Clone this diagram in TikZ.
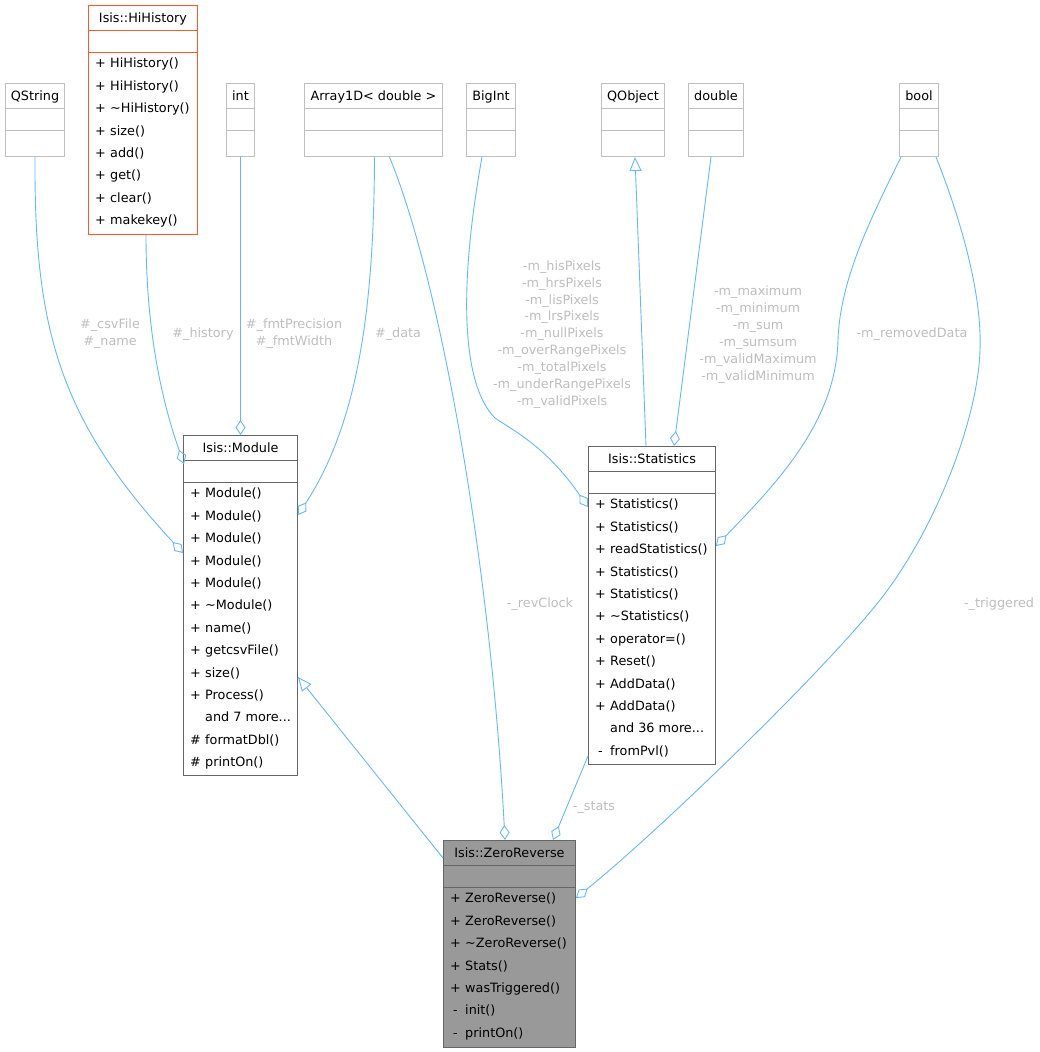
\documentclass[tikz,border=0pt]{standalone}
\usepackage{fontspec}
\setmainfont{DejaVu Sans}
\usetikzlibrary{arrows.meta}
\definecolor{edgeblue}{HTML}{63B8FF}
\definecolor{labelgrey}{HTML}{BEBEBE}
\definecolor{extgrey}{HTML}{BFBFBF}
\definecolor{clsgrey}{HTML}{666666}
\definecolor{clsfill}{HTML}{999999}
\definecolor{truncred}{HTML}{FA5A28}
% one member row: visibility sign, then name
\newcommand{\mrow}[2]{\strut\makebox[15pt][l]{\makebox[10.7pt]{#1}}#2}
% the two compartment lines under the title
\newcommand{\splitbox}[2]{%
  \draw[#2, line width=1pt] ([yshift=-25pt]#1.north west) -- ([yshift=-25pt]#1.north east)
    ([yshift=-47pt]#1.north west) -- ([yshift=-47pt]#1.north east);}
\begin{document}
\begin{tikzpicture}[x=1pt, y=-1pt,
  classbox/.style={draw, line width=1pt, anchor=north west, inner sep=0pt, fill=white},
  extbox/.style={classbox, draw=extgrey, minimum height=73pt},
  docbox/.style={classbox, draw=clsgrey},
  boxtitle/.style={anchor=base, inner sep=0pt, font=\fontsize{12.8}{15}\selectfont},
  members/.style={anchor=north west, align=left, inner sep=0pt, font=\fontsize{12.8}{22.4}\selectfont},
  lbl/.style={text=labelgrey, align=center, inner sep=0pt, font=\fontsize{12.8}{16.9}\selectfont},
  agg/.style={draw=edgeblue, line width=0.9pt, -{Diamond[open, length=15pt, width=10pt]}},
  inh/.style={draw=edgeblue, line width=0.9pt, -{Triangle[open, length=14pt, width=12pt]}}]
\useasboundingbox (0,0) rectangle (1040,1052);

% used classes along the top
\node[extbox, minimum width=59pt] (qstring) at (5,83) {};
\node[boxtitle] (tqstring) at ([yshift=-17pt]qstring.north) {QString};
\splitbox{qstring}{extgrey}
\node[extbox, minimum width=28pt] (int) at (226,83) {};
\node[boxtitle] (tint) at ([yshift=-17pt]int.north) {int};
\splitbox{int}{extgrey}
\node[extbox, minimum width=138pt] (array) at (304,83) {};
\node[boxtitle] (tarray) at ([yshift=-17pt]array.north) {Array1D< double >};
\splitbox{array}{extgrey}
\node[extbox, minimum width=49pt] (bigint) at (466,83) {};
\node[boxtitle] (tbigint) at ([yshift=-17pt]bigint.north) {BigInt};
\splitbox{bigint}{extgrey}
\node[extbox, minimum width=63pt] (qobject) at (601,83) {};
\node[boxtitle] (tqobject) at ([yshift=-17pt]qobject.north) {QObject};
\splitbox{qobject}{extgrey}
\node[extbox, minimum width=55pt] (double) at (688,83) {};
\node[boxtitle] (tdouble) at ([yshift=-17pt]double.north) {double};
\splitbox{double}{extgrey}
\node[extbox, minimum width=39pt] (bool) at (899,83) {};
\node[boxtitle] (tbool) at ([yshift=-17pt]bool.north) {bool};
\splitbox{bool}{extgrey}

% HiHistory
\node[classbox, draw=truncred, minimum width=109pt, minimum height=229pt] (hihistory) at (88,5) {};
\node[boxtitle] (thihistory) at ([yshift=-17pt]hihistory.north) {Isis::HiHistory};
\splitbox{hihistory}{truncred}
\node[members] (mhihistory) at ([xshift=7pt,yshift=-47pt]hihistory.north west)
  {\mrow{+}{HiHistory()}\\ \mrow{+}{HiHistory()}\\ \mrow{+}{\textasciitilde HiHistory()}\\
   \mrow{+}{size()}\\ \mrow{+}{add()}\\ \mrow{+}{get()}\\ \mrow{+}{clear()}\\ \mrow{+}{makekey()}};

% Module
\node[docbox, minimum width=114pt, minimum height=340pt] (module) at (183,435) {};
\node[boxtitle] (tmodule) at ([yshift=-17pt]module.north) {Isis::Module};
\splitbox{module}{clsgrey}
\node[members] (mmodule) at ([xshift=7pt,yshift=-47pt]module.north west)
  {\mrow{+}{Module()}\\ \mrow{+}{Module()}\\ \mrow{+}{Module()}\\ \mrow{+}{Module()}\\
   \mrow{+}{Module()}\\ \mrow{+}{\textasciitilde Module()}\\ \mrow{+}{name()}\\
   \mrow{+}{getcsvFile()}\\ \mrow{+}{size()}\\ \mrow{+}{Process()}\\ \mrow{}{and 7 more...}\\
   \mrow{\#}{formatDbl()}\\ \mrow{\#}{printOn()}};

% Statistics
\node[docbox, minimum width=127pt, minimum height=318pt] (statistics) at (588,446) {};
\node[boxtitle] (tstatistics) at ([yshift=-17pt]statistics.north) {Isis::Statistics};
\splitbox{statistics}{clsgrey}
\node[members] (mstatistics) at ([xshift=7pt,yshift=-47pt]statistics.north west)
  {\mrow{+}{Statistics()}\\ \mrow{+}{Statistics()}\\ \mrow{+}{readStatistics()}\\
   \mrow{+}{Statistics()}\\ \mrow{+}{Statistics()}\\ \mrow{+}{\textasciitilde Statistics()}\\
   \mrow{+}{operator=()}\\ \mrow{+}{Reset()}\\ \mrow{+}{AddData()}\\ \mrow{+}{AddData()}\\
   \mrow{}{and 36 more...}\\ \mrow{-}{fromPvl()}};

% ZeroReverse
\node[docbox, fill=clsfill, minimum width=132pt, minimum height=207pt] (zeroreverse) at (443,840) {};
\node[boxtitle] (tzeroreverse) at ([yshift=-17pt]zeroreverse.north) {Isis::ZeroReverse};
\splitbox{zeroreverse}{clsgrey}
\node[members] (mzeroreverse) at ([xshift=7pt,yshift=-47pt]zeroreverse.north west)
  {\mrow{+}{ZeroReverse()}\\ \mrow{+}{ZeroReverse()}\\ \mrow{+}{\textasciitilde ZeroReverse()}\\
   \mrow{+}{Stats()}\\ \mrow{+}{wasTriggered()}\\ \mrow{-}{init()}\\ \mrow{-}{printOn()}};

% members of Module
\draw[agg] (qstring.south) .. controls (34,330) and (60,420) .. ([yshift=-118pt]module.north west);
\draw[agg] ([xshift=3pt]hihistory.south) .. controls (146,340) and (165,410) .. ([xshift=1pt,yshift=-29pt]module.north west);
\draw[agg] (int.south) -- (module.north);
\draw[agg] ([xshift=1pt]array.south) .. controls (374,300) and (360,420) .. ([yshift=-80pt]module.north east);
\node[lbl] (lcsv) at (110,334) {\#\_csvFile\\\#\_name};
\node[lbl] (lhistory) at (203,334) {\#\_history};
\node[lbl] (lfmt) at (294,334) {\#\_fmtPrecision\\\#\_fmtWidth};
\node[lbl] (ldata) at (398,334) {\#\_data};

% members of Statistics
\draw[agg] ([xshift=-9pt]bigint.south) .. controls (458,290) and (462,385) .. (495,418)
  .. controls (512,430) and (545,445) .. ([yshift=-61pt]statistics.north west);
\draw[inh] ([xshift=-6pt]statistics.north) -- ([xshift=2pt]qobject.south);
\draw[agg] ([xshift=-5pt]double.south) -- ([xshift=22pt]statistics.north);
\draw[agg] ([xshift=2pt]bool.south west) .. controls (870,220) and (840,280) .. (838,340)
  .. controls (836,420) and (780,480) .. ([yshift=-100pt]statistics.north east);
\node[lbl] (lpixels) at (562,334.5) {-m\_hisPixels\\-m\_hrsPixels\\-m\_lisPixels\\-m\_lrsPixels\\-m\_nullPixels\\-m\_overRangePixels\\-m\_totalPixels\\-m\_underRangePixels\\-m\_validPixels};
\node[lbl] (lvalues) at (758,334.5) {-m\_maximum\\-m\_minimum\\-m\_sum\\-m\_sumsum\\-m\_validMaximum\\-m\_validMinimum};
\node[lbl] (lremoved) at (912,334) {-m\_removedData};

% members of ZeroReverse
\draw[agg] ([xshift=16pt]array.south) .. controls (440,280) and (490,560) .. ([xshift=62pt]zeroreverse.north west);
\draw[agg] ([yshift=9pt]statistics.south west) -- ([xshift=110pt]zeroreverse.north west);
\draw[agg] ([xshift=-3pt]bool.south east) .. controls (965,230) and (982,300) .. (980,350)
  .. controls (978,420) and (935,530) .. (880,600)
  .. controls (825,670) and (660,830) .. ([yshift=-58pt]zeroreverse.north east);
\draw[inh] ([yshift=-18pt]zeroreverse.north west) -- ([yshift=-242pt]module.north east);
\node[lbl] (lrevclock) at (540,604) {-\_revClock};
\node[lbl] (lstats) at (594,808) {-\_stats};
\node[lbl] (ltriggered) at (999,604) {-\_triggered};
\end{tikzpicture}
\end{document}
